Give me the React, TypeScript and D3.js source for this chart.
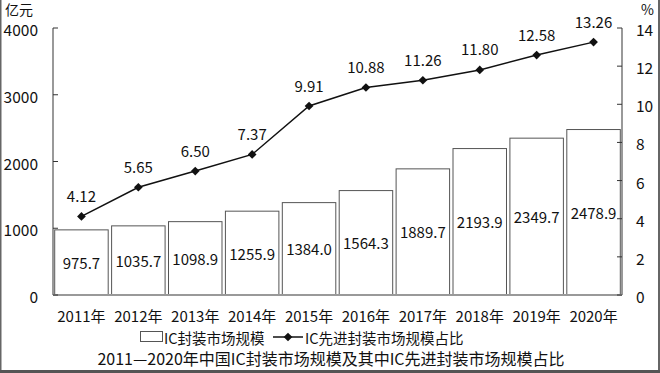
import React from "react";
import * as d3 from "d3";

const years = ["2011年", "2012年", "2013年", "2014年", "2015年", "2016年", "2017年", "2018年", "2019年", "2020年"];
const marketSize = [975.7, 1035.7, 1098.9, 1255.9, 1384.0, 1564.3, 1889.7, 2193.9, 2349.7, 2478.9];
const advancedShare = [4.12, 5.65, 6.5, 7.37, 9.91, 10.88, 11.26, 11.8, 12.58, 13.26];
const leftTicks = [0, 1000, 2000, 3000, 4000];
const rightTicks = [0, 2, 4, 6, 8, 10, 12, 14];

const W = 660;
const H = 373;
const left = 53;
const right = 622;
const top = 28;
const bottom = 295;
const FONT = "'Noto Sans CJK SC', 'Noto Sans', sans-serif";

export default function App() {
  const x = d3.scaleBand<string>().domain(years).range([left, right]).paddingInner(0.06).paddingOuter(0.03);
  const yL = d3.scaleLinear().domain([0, 4000]).range([bottom, top]);
  const yR = d3.scaleLinear().domain([0, 14]).range([bottom, top]);
  const cx = (y: string) => (x(y) as number) + x.bandwidth() / 2;
  const line = d3
    .line<number>()
    .x((_, i) => cx(years[i]))
    .y((d) => yR(d));
  const diamond = d3.symbol().type(d3.symbolSquare).size(38)();

  return (
    <svg width={W} height={H} style={{ position: "absolute", left: 0, top: 0 }} fontFamily={FONT}>
      <rect x={0} y={0} width={W} height={H} fill="#fff" />
      {/* frame */}
      <path d={`M0.5,0 V${H - 1.5} H${W - 1} V0`} fill="none" stroke="#666" strokeWidth={2} />
      <line x1={0} x2={W} y1={H - 1.5} y2={H - 1.5} stroke="#555" strokeWidth={3} />

      {/* bars */}
      {marketSize.map((v, i) => (
        <g key={years[i]}>
          <rect
            x={x(years[i]) as number}
            y={yL(v)}
            width={x.bandwidth()}
            height={bottom - yL(v)}
            fill="#fff"
            stroke="#555"
            strokeWidth={1}
          />
          <text
            x={cx(years[i])}
            y={(yL(v) + bottom) / 2}
            textAnchor="middle"
            dominantBaseline="central"
            fontSize={15}
            fill="#111"
          >
            {v.toFixed(1)}
          </text>
        </g>
      ))}

      {/* axes */}
      <line x1={left} x2={left} y1={top} y2={bottom} stroke="#999" strokeWidth={2} />
      <line x1={right} x2={right} y1={top} y2={bottom} stroke="#999" strokeWidth={2} />
      <line x1={left} x2={right} y1={bottom} y2={bottom} stroke="#999" strokeWidth={2} />
      {leftTicks.map((t) => (
        <g key={"l" + t}>
          <line x1={left} x2={left + 5} y1={yL(t)} y2={yL(t)} stroke="#333" />
          <text x={38} y={yL(t) + 1} textAnchor="end" dominantBaseline="central" fontSize={15.5} fill="#111">
            {t}
          </text>
        </g>
      ))}
      {rightTicks.map((t) => (
        <g key={"r" + t}>
          <line x1={right - 5} x2={right} y1={yR(t)} y2={yR(t)} stroke="#333" />
          <text x={636} y={yR(t) + 1} textAnchor="start" dominantBaseline="central" fontSize={15.5} fill="#111">
            {t}
          </text>
        </g>
      ))}
      {years.map((y) => (
        <text key={"x" + y} x={cx(y)} y={315} textAnchor="middle" dominantBaseline="central" fontSize={15} fill="#111">
          {y}
        </text>
      ))}
      <text x={5} y={9} fontSize={14} dominantBaseline="central" fill="#111">
        亿元
      </text>
      <text x={641} y={9} fontSize={14} dominantBaseline="central" fill="#111">
        %
      </text>

      {/* line */}
      <path d={line(advancedShare) || ""} fill="none" stroke="#111" strokeWidth={1.5} />
      {advancedShare.map((v, i) => (
        <g key={"p" + i}>
          <path d={diamond || ""} transform={`translate(${cx(years[i])},${yR(v)}) rotate(45)`} fill="#111" />
          <text x={cx(years[i])} y={yR(v) - 21} textAnchor="middle" dominantBaseline="central" fontSize={15} fill="#111">
            {v.toFixed(2)}
          </text>
        </g>
      ))}

      {/* legend */}
      <rect x={140.5} y={331.5} width={22} height={10} fill="#fff" stroke="#555" />
      <text x={164} y={337} dominantBaseline="central" fontSize={14.5} fill="#111">
        IC封装市场规模
      </text>
      <line x1={273} x2={303} y1={337} y2={337} stroke="#111" strokeWidth={1.5} />
      <path d={diamond || ""} transform="translate(288,337) rotate(45)" fill="#111" />
      <text x={305} y={337} dominantBaseline="central" fontSize={14.5} fill="#111">
        IC先进封装市场规模占比
      </text>

      {/* title */}
      <text x={331} y={358} textAnchor="middle" dominantBaseline="central" fontSize={16} fill="#111">
        2011—2020年中国IC封装市场规模及其中IC先进封装市场规模占比
      </text>
    </svg>
  );
}
